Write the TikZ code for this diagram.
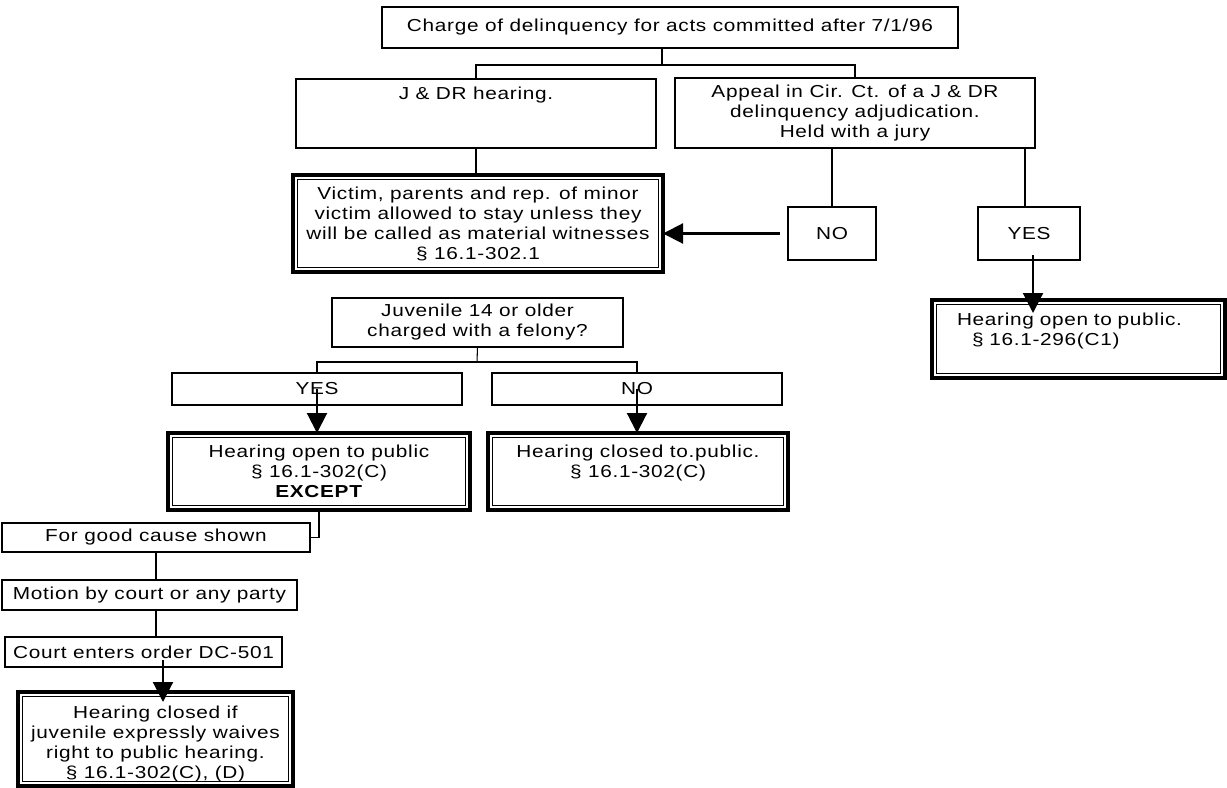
\documentclass[tikz,border=0pt]{standalone}
\usepackage{fontspec}
\setmainfont{Liberation Sans}[FakeStretch=1.2,LetterSpace=4]
\usetikzlibrary{arrows.meta}
\newlength\pxu
\setlength\pxu{0.75pt}

\begin{document}
\begin{tikzpicture}[x=0.75pt,y=-0.75pt,
  font=\fontsize{13}{15}\selectfont,
  box/.style={draw, line width=0.8pt, inner sep=0pt, outer sep=0pt, align=center},
  heavy/.style={box, line width=2.3pt},
  innerframe/.style={line width=0.7pt},
  link/.style={line width=0.8pt},
  arr/.style={line width=1.6pt, -{Triangle[length=15pt,width=15pt]}},
]
\useasboundingbox (0,0) rectangle (1227,788);

% ---- boxes ----
\node[box, minimum width=576\pxu, minimum height=41\pxu] (top) at (670,27.5)
  {Charge of delinquency for acts committed after 7/1/96};
\node[box, minimum width=360\pxu, minimum height=69\pxu] (jdr) at (476,113.5)
  {J \& DR hearing.\\~\\~};
\node[box, minimum width=360\pxu, minimum height=70\pxu] (appeal) at (855,113)
  {Appeal in Cir. Ct. of a J \& DR\\delinquency adjudication.\\Held with a jury};
\node[heavy, minimum width=370\pxu, minimum height=97\pxu] (victim) at (478,223.5)
  {Victim, parents and rep. of minor\\victim allowed to stay unless they\\will be called as material witnesses\\§ 16.1-302.1};
\node[box, minimum width=88\pxu, minimum height=53\pxu] (no1) at (832,233.5) {NO};
\node[box, minimum width=102\pxu, minimum height=53\pxu] (yes1) at (1029,233.5) {YES};
\node[heavy, minimum width=293\pxu, minimum height=78\pxu, text width=243\pxu, align=left] (openR) at (1078.5,339)
  {Hearing open to public.\\\hspace*{15\pxu}§ 16.1-296(C1)\\~};

\node[box, minimum width=291\pxu, minimum height=49\pxu] (juv) at (477.5,322.5)
  {Juvenile 14 or older\\charged with a felony?};
\node[box, minimum width=290\pxu, minimum height=32\pxu] (yes2) at (317,389) {YES};
\node[box, minimum width=290\pxu, minimum height=32\pxu] (no2) at (637,389) {NO};
\node[heavy, minimum width=302\pxu, minimum height=77\pxu] (open) at (319,471.5)
  {Hearing open to public\\§ 16.1-302(C)\\\textbf{EXCEPT}};
\node[heavy, minimum width=300\pxu, minimum height=77\pxu] (closed) at (638,471.5)
  {Hearing closed to.public.\\§ 16.1-302(C)\\~};

\node[box, minimum width=308\pxu, minimum height=29\pxu] (good) at (156,537.5) {For good cause shown};
\node[box, minimum width=295\pxu, minimum height=30\pxu] (motion) at (149.5,595) {Motion by court or any party};
\node[box, minimum width=277\pxu, minimum height=30\pxu] (court) at (143.5,652) {Court enters order DC-501};
\node[heavy, minimum width=275\pxu, minimum height=94\pxu] (final) at (155.5,739)
  {\rule{0pt}{17pt}Hearing closed if\\juvenile expressly waives\\right to public hearing.\\§ 16.1-302(C), (D)};

% inner thin frame of the heavy boxes
\foreach \n in {victim,openR,open,closed,final}
  \draw[innerframe] ([shift={(3.4pt,-3.4pt)}]\n.north west) rectangle ([shift={(-3.4pt,3.4pt)}]\n.south east);

% ---- connectors ----
\coordinate (b1) at (662,65);
\draw[link] ([xshift=-8\pxu]top.south) -- (b1);
\draw[link] (jdr.north) |- (b1) -| (appeal.north);
\draw[link] (jdr.south) -- (jdr.south |- victim.north);
\draw[link] (no1.north) -- (no1.north |- appeal.south);
\coordinate (y1) at ([xshift=-4\pxu]yes1.north);
\draw[link] (y1) -- (y1 |- appeal.south);
\draw[arr] ([xshift=-8\pxu]no1.west) -- (victim.east |- no1.west);
\coordinate (s1) at ([xshift=4\pxu,yshift=5\pxu]yes1.south);
\coordinate (t1) at ([yshift=-13\pxu]openR.north);
\draw[arr] (s1) -- (s1 |- t1);

\coordinate (b2) at (477,362);
\draw[link] (juv.south) -- (b2);
\draw[link] (yes2.north) |- (b2) -| (no2.north);
\draw[arr] (yes2.center) -- (yes2.center |- open.north);
\draw[arr] (no2.center) -- (no2.center |- closed.north);

\draw[link] (open.south) |- (good.east);
\draw[link] (good.south) -- (good.south |- motion.north);
\draw[link] (good.south |- motion.south) -- (good.south |- court.north);
\coordinate (s3) at ([xshift=19.5\pxu,yshift=7\pxu]court.south);
\coordinate (t3) at ([yshift=-10\pxu]final.north);
\draw[arr] (s3) -- (s3 |- t3);
\end{tikzpicture}
\end{document}
